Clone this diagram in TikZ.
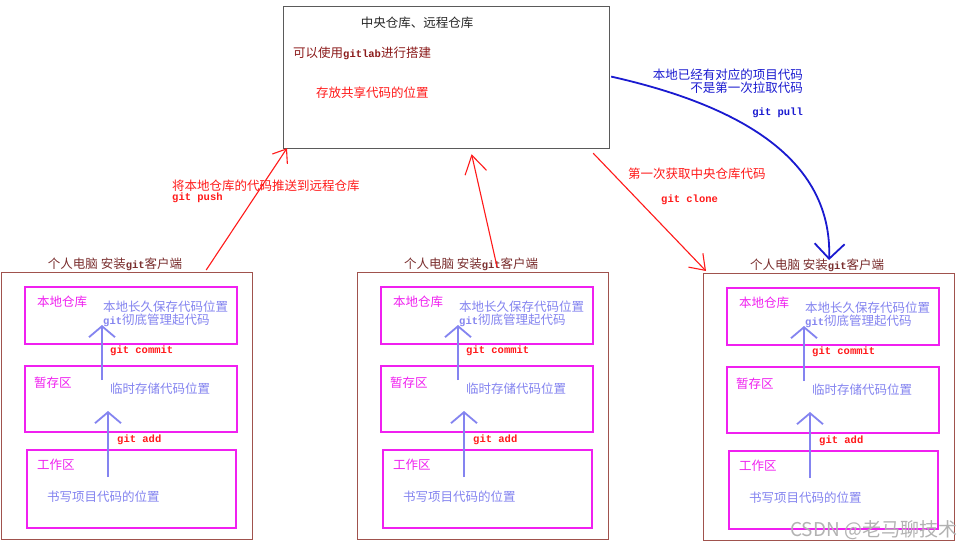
\documentclass[tikz,border=0pt]{standalone}
\usepackage{fontspec}
\setmainfont{Noto Sans CJK SC}
\setmonofont{Liberation Mono}
\usepackage{xcolor}
\definecolor{repogray}{HTML}{5A5A5A}
\definecolor{repodark}{HTML}{8B1A1A}
\definecolor{pcbrown}{HTML}{A0524D}
\definecolor{pctext}{HTML}{7A2E2E}
\definecolor{areamag}{HTML}{F020F0}
\definecolor{arealight}{HTML}{8484F0}
\definecolor{gitred}{HTML}{FF1A1A}
\definecolor{gitblue}{HTML}{1A1AD0}
\usepackage{tikz}
\usetikzlibrary{arrows.meta, positioning, calc}
\newcommand{\gitcmd}[1]{{\fontsize{10.5}{12}\selectfont\ttfamily\bfseries #1}}

\begin{document}
\begin{tikzpicture}[x=1pt, y=-1pt,
  every node/.style={inner sep=0pt},
  cnfont/.style={font=\fontsize{12.5}{14}\selectfont},
  cmd/.style={font=\fontsize{10.5}{12}\selectfont\ttfamily\bfseries, text=gitred, anchor=west},
  pcbox/.style={draw=pcbrown, line width=1.2pt, minimum width=251pt, minimum height=267pt, anchor=north west},
  areabox/.style={draw=areamag, line width=1.8pt, anchor=north west},
  arealbl/.style={cnfont, text=areamag, anchor=west},
  areadesc/.style={cnfont, text=arealight, anchor=west},
  stage/.style={draw=arealight, line width=1.8pt, -{Straight Barb[length=11pt, width=26pt]}},
  remote/.style={draw=gitred, line width=1.1pt, -{Straight Barb[length=12pt, width=18pt]}}
]
\fill[white] (0,0) rectangle (976,549);
\useasboundingbox (0,0) rectangle (976,549);

\node[draw=repogray, line width=1.2pt, minimum width=326pt, minimum height=142pt, anchor=north west] (repo) at (283,6) {};
\node[cnfont, text=black!85] (repotitle) at (417,23) {中央仓库、远程仓库};
\node[cnfont, text=repodark, anchor=west] (gitlab) at (293,53) {可以使用\gitcmd{gitlab}进行搭建};
\node[cnfont, text=gitred, anchor=west] (share) at (316,93) {存放共享代码的位置};

\foreach \ox/\oy/\i in {1/272/1, 357/272/2, 703/273/3} {
  \node[pcbox] (pc\i) at (\ox,\oy) {};
  \node[cnfont, text=pctext] (pclbl\i) at ($(pc\i.north)+(-12,-8)$) {个人电脑 安装\gitcmd{git}客户端};
  \node[areabox, minimum width=212pt, minimum height=57pt] (bd\i) at ($(pc\i.north west)+(23,14)$) {};
  \node[areabox, minimum width=212pt, minimum height=66pt] (zc\i) at ($(pc\i.north west)+(23,93)$) {};
  \node[areabox, minimum width=209pt, minimum height=78pt] (gz\i) at ($(pc\i.north west)+(25,177)$) {};
  \node[arealbl] (bdlbl\i) at ($(bd\i.north west)+(13,16)$) {本地仓库};
  \node[areadesc] (bddesc\i) at ($(bd\i.north west)+(79,21)$) {本地长久保存代码位置};
  \node[areadesc] (bdgit\i) at ($(bd\i.north west)+(79,34)$) {\gitcmd{git}彻底管理起代码};
  \node[arealbl] (zclbl\i) at ($(zc\i.north west)+(10,18)$) {暂存区};
  \node[areadesc] (zcdesc\i) at ($(zc\i.north west)+(86,24)$) {临时存储代码位置};
  \node[arealbl] (gzlbl\i) at ($(gz\i.north west)+(11,16)$) {工作区};
  \node[areadesc] (gzdesc\i) at ($(gz\i.north west)+(21,48)$) {书写项目代码的位置};
  \coordinate (cmtail\i) at ($(zc\i.north west)+(78,15)$);
  \coordinate (cmhead\i) at ($(bd\i.north west)+(78,39)$);
  \coordinate (addtail\i) at ($(gz\i.north west)+(82,28)$);
  \coordinate (addhead\i) at ($(zc\i.north west)+(84,46)$);
  \draw[stage] (cmtail\i) -- (cmhead\i);
  \draw[stage] (addtail\i) -- (addhead\i);
  \node[cmd] (commit\i) at ($(pc\i.north west)+(109,79)$) {git commit};
  \node[cmd] (add\i) at ($(pc\i.north west)+(116,168)$) {git add};
}

\coordinate (pushtail) at ($(pc1.north east)+(-47,-2)$);
\coordinate (pushhead) at ($(repo.south west)+(4,-1)$);
\coordinate (midtail) at ($(pc2.north)+(14,-5)$);
\coordinate (midhead) at ($(repo.south)+(25,5)$);
\coordinate (clonetail) at ($(repo.south east)+(-17,4)$);
\coordinate (clonehead) at ($(pc3.north west)+(3,-2)$);
\coordinate (pulltail) at ($(repo.east)+(1,-1)$);
\coordinate (pullhead) at ($(pc3.north)+(0,-13)$);

\draw[remote] (pushtail) -- (pushhead);
\draw[remote, -{Straight Barb[length=18pt, width=22pt]}] (midtail) -- (midhead);
\draw[remote, -{Straight Barb[length=14pt, width=20pt]}] (clonetail) -- (clonehead);
\draw[gitblue, line width=1.8pt, -{Straight Barb[length=15pt, width=30pt]}] (pulltail) .. controls (760,110) and (832,170) .. (pullhead);

\node[cnfont, text=gitred, anchor=west] (pushlbl) at (172,186) {将本地仓库的代码推送到远程仓库};
\node[cmd] (pushcmd) at (172,198) {git push};
\node[cnfont, text=gitred, anchor=west] (clonelbl) at (628,174) {第一次获取中央仓库代码};
\node[cmd] (clonecmd) at (661,200) {git clone};
\node[cnfont, text=gitblue, anchor=east] (pulllbl1) at (803,75) {本地已经有对应的项目代码};
\node[cnfont, text=gitblue, anchor=east] (pulllbl2) at (803,88) {不是第一次拉取代码};
\node[cmd, text=gitblue, anchor=east] (pullcmd) at (803,113) {git pull};

\node[font=\fontsize{19}{21}\selectfont, text=black!30, anchor=west] (mark) at (790,530) {CSDN @老马聊技术};
\end{tikzpicture}
\end{document}
